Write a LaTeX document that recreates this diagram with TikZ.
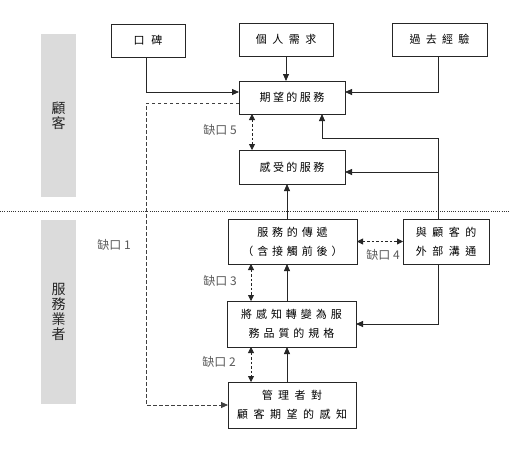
\documentclass[tikz,border=0pt]{standalone}
\usepackage{fontspec}
\newfontfamily\cjk{Noto Sans CJK TC}
\usetikzlibrary{arrows.meta}
\begin{document}
\begin{tikzpicture}[x=1pt,y=-1pt,
  box/.style={draw=black!85,line width=0.9pt,fill=white,inner sep=0pt,outer sep=0pt,align=center},
  ls/.style={font={\cjk\fontsize{11}{19}\selectfont\addfontfeatures{LetterSpace=#1}}},
  arr/.style={draw=black!85,line width=0.8pt,-{Triangle[length=7pt,width=6pt]}},
  gaparr/.style={draw=black!85,line width=0.8pt,dash pattern=on 2.5pt off 2pt,{Triangle[length=6pt,width=6pt]}-{Triangle[length=6pt,width=6pt]}},
  dasharr/.style={draw=black!75,line width=0.8pt,dash pattern=on 3.5pt off 2.5pt,-{Triangle[length=7pt,width=6pt]}},
  gaplbl/.style={text=black!65,font=\cjk\fontsize{12}{12}\selectfont,inner sep=0pt},
  sidebar/.style={fill=black!14,draw=none},
  sidelbl/.style={align=center,inner sep=0pt,text=black!85,font=\cjk\fontsize{14}{15}\selectfont}
]
\fill[white] (0,0) rectangle (509,456);
\useasboundingbox (0,0) rectangle (509,456);

% side bars
\fill[sidebar] (41,34) rectangle (76,197);
\fill[sidebar] (41,220) rectangle (76,404);
\node[sidelbl] (cust) at (58.5,116) {顧\\客};
\node[sidelbl] (prov) at (58.5,312) {服\\務\\業\\者};

% dotted divider
\draw[black!80,line width=0.8pt,dash pattern=on 1pt off 1.2pt] (0,211) -- (509,211);

% boxes
\node[box,ls=60,minimum width=74pt,minimum height=33pt] (kb) at (148,40.5) {口碑};
\node[box,ls=50,minimum width=94pt,minimum height=33pt] (gr) at (286,39.5) {個人需求};
\node[box,ls=48,minimum width=95pt,minimum height=33pt] (gq) at (439.5,39.5) {過去經驗};
\node[box,ls=22,minimum width=106pt,minimum height=33pt] (exp) at (292,97.5) {期望的服務};
\node[box,ls=22,minimum width=106pt,minimum height=34pt] (per) at (292,167) {感受的服務};
\node[box,ls=35,minimum width=129pt,minimum height=45pt] (del) at (292.5,241.5) {服務的傳遞\\（含接觸前後）};
\node[box,ls=50,minimum width=86pt,minimum height=45pt] (ext) at (446,241.5) {與顧客的\\外部溝通};
\node[box,ls=36,minimum width=129pt,minimum height=46pt] (spec) at (291.5,324) {將感知轉變為服\\務品質的規格};
\node[box,ls=50,minimum width=128pt,minimum height=46pt] (mgr) at (292,405) {管理者對\\顧客期望的感知};

% input arrows to expected service
\draw[arr] ([xshift=-2pt]kb.south) |- ([yshift=5.5pt]exp.west);
\draw[arr] (gr.south) -- (gr.south |- exp.north);
\draw[arr] ([xshift=-1.5pt]gq.south) |- ([yshift=5.5pt]exp.east);

% external communication
\draw[arr] ([xshift=-8pt]ext.north) -- ++(0,-81) -| ([xshift=30pt]exp.south);
\coordinate (b1) at (438,172);
\draw[arr] (b1) -- (b1 -| per.east);
\draw[arr] ([xshift=-8pt]ext.south) |- (spec.east);

% upward flows
\draw[arr] ([xshift=-5.5pt]del.north) -- ([xshift=-5.5pt]del.north |- per.south);
\draw[arr] ([xshift=-4.5pt]spec.north) -- ([xshift=-4.5pt]spec.north |- del.south);
\draw[arr] ([xshift=-5pt]mgr.north) -- ([xshift=-5pt]mgr.north |- spec.south);

% gaps
\draw[gaparr] ([xshift=-40pt]exp.south) -- ([xshift=-40pt]per.north);
\draw[gaparr] ([xshift=-41.5pt]del.south) -- ([xshift=-41.5pt]del.south |- spec.north);
\draw[gaparr] ([xshift=-40.5pt]spec.south) -- ([xshift=-40.5pt]spec.south |- mgr.north);
\draw[gaparr] (del.east) -- (ext.west);
\draw[dasharr] ([yshift=-5.5pt]exp.west) -- ++(-93,0) |- (mgr.west);

\node[gaplbl] (g1) at (114,245) {缺口 1};
\node[gaplbl] (g5) at (220,130) {缺口 5};
\node[gaplbl] (g3) at (220,281) {缺口 3};
\node[gaplbl] (g2) at (219,362) {缺口 2};
\node[gaplbl] (g4) at (383,255) {缺口 4};
\end{tikzpicture}
\end{document}
